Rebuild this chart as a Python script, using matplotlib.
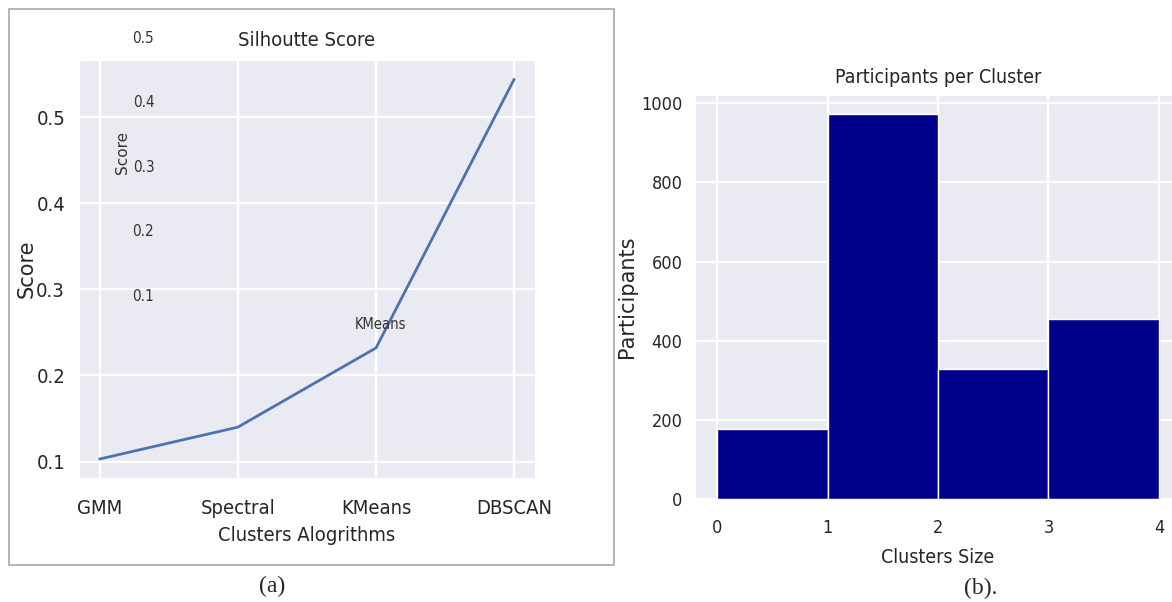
import matplotlib
matplotlib.use("Agg")
import matplotlib.pyplot as plt
import seaborn as sns
from matplotlib.patches import Rectangle

# data
algorithms = ["GMM", "Spectral", "KMeans", "DBSCAN"]
silhouette = [0.103, 0.140, 0.232, 0.544]
ghost_ticks = [0.1, 0.2, 0.3, 0.4, 0.5]

bin_edges = [0, 1, 2, 3, 4]
participants = [178, 972, 328, 454]

sns.set_style("darkgrid")
plt.rcParams['font.family'] = ['DejaVu Sans']
plt.rcParams['font.stretch'] = 'condensed'
plt.rcParams['grid.linewidth'] = 1.6

fig = plt.figure(figsize=(11.72, 6.02), dpi=100)
fig.patch.set_facecolor("white")

# frame around panel (a)
fig.patches.append(Rectangle((0.0077, 0.0615), 0.516, 0.9236, transform=fig.transFigure,
                             fill=False, edgecolor="#a8a8a8", linewidth=1.2))

# ---- (a) silhouette score
ax1 = fig.add_axes([0.0674, 0.206, 0.389, 0.694])
ax1.plot(algorithms, silhouette, color="#4C72B0", linewidth=2)
ax1.set_yticks([0.1, 0.2, 0.3, 0.4, 0.5])
ax1.set_yticklabels(["0.1", "0.2", "0.3", "0.4", "0.5"])
for lab in ax1.get_xticklabels() + ax1.get_yticklabels():
    lab.set_fontsize(14.5)
    lab.set_color("#262626")
ax1.tick_params(axis="x", pad=15, length=0)
ax1.tick_params(axis="y", pad=10, length=0)
ax1.set_title("Silhoutte Score", fontsize=14.5, pad=10, color="#262626")
ax1.set_xlabel("Clusters Alogrithms", fontsize=14.5, labelpad=6, color="#262626")
ax1.set_ylabel("Score", fontsize=15, fontstretch="normal", color="#262626")
ax1.yaxis.set_label_coords(-0.094, 0.5)
ax1.text(2.03, 0.259, "KMeans", fontsize=10.5, ha="center", va="center", color="#333333")

# leftover labels from an overlapping axis
ax_g = fig.add_axes([0.134, 0.51, 0.04, 0.4286])
ax_g.set_ylim(0.1, 0.5)
ax_g.set_yticks(ghost_ticks)
ax_g.set_yticklabels([str(t) for t in ghost_ticks])
for lab in ax_g.get_yticklabels():
    lab.set_fontsize(11)
    lab.set_color("#333333")
ax_g.set_xticks([])
ax_g.tick_params(axis="y", length=0, pad=2)
ax_g.grid(False)
ax_g.patch.set_visible(False)
for s in ax_g.spines.values():
    s.set_visible(False)
ax_g.set_ylabel("Score", fontsize=11, fontstretch="normal", color="#333333")
ax_g.yaxis.set_label_coords(-0.57, 0.554)

# ---- (b) participants per cluster
ax2 = fig.add_axes([0.593, 0.171, 0.4147, 0.671])
ax2.bar(bin_edges[:-1], participants, width=1, align="edge",
        color="#00008B", edgecolor="white", linewidth=1)
ax2.set_xticks(bin_edges)
ax2.set_yticks([0, 200, 400, 600, 800, 1000])
for lab in ax2.get_xticklabels() + ax2.get_yticklabels():
    lab.set_fontsize(13)
    lab.set_color("#262626")
ax2.tick_params(axis="x", pad=14, length=0)
ax2.tick_params(axis="y", pad=9, length=0)
ax2.set_title("Participants per Cluster", fontsize=14, pad=9, color="#262626")
ax2.set_xlabel("Clusters Size", fontsize=14, labelpad=8, color="#262626")
ax2.set_ylabel("Participants", fontsize=15, fontstretch="normal", labelpad=3, color="#262626")

# captions
fig.text(0.232, 0.025, "(a)", family=["Liberation Serif", "DejaVu Serif"], fontsize=17, ha="center", va="center")
fig.text(0.837, 0.023, "(b).", family=["Liberation Serif", "DejaVu Serif"], fontsize=17, ha="center", va="center")

fig.savefig("out.png", dpi=100, facecolor="white")
